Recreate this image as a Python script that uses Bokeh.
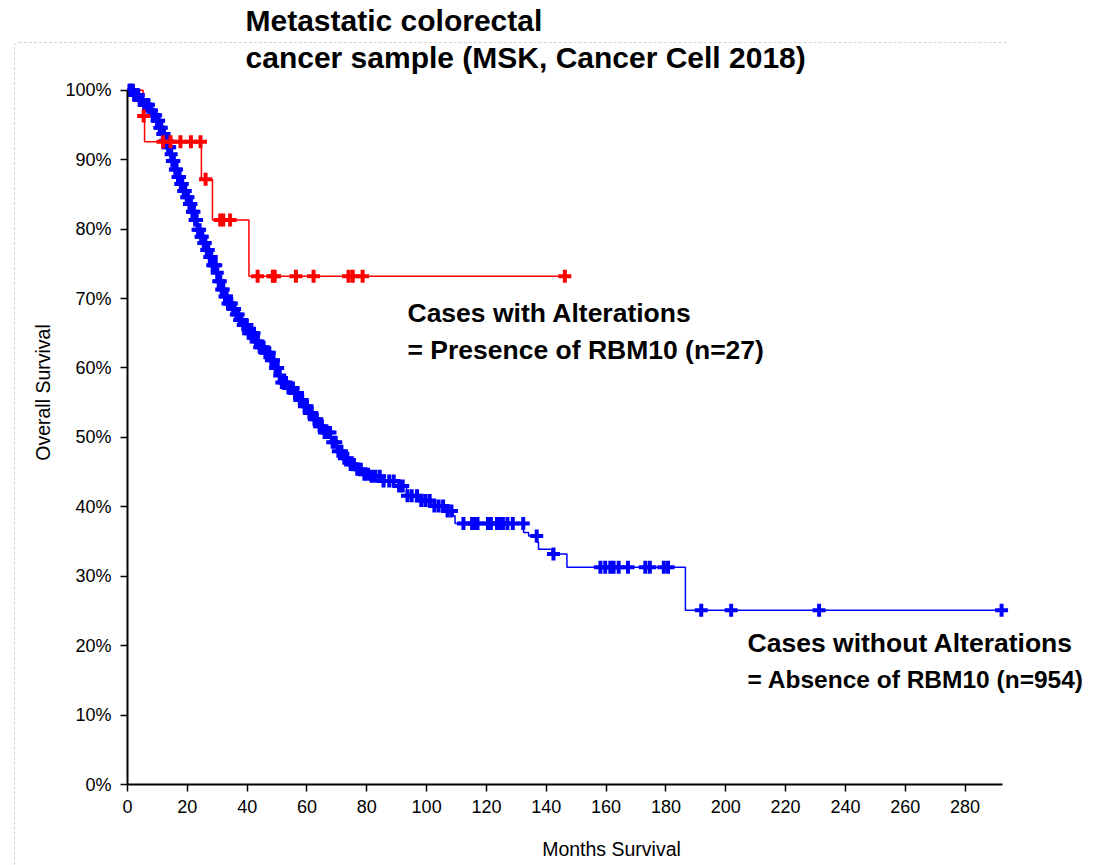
import numpy as np
from bokeh.plotting import figure
from bokeh.models import Label, FixedTicker, Range1d, InlineStyleSheet
from bokeh.embed import file_html
from bokeh.resources import INLINE

# ---------------- data (months, survival %) ----------------
# Cases with alterations (RBM10 present, n=27): step curve
red_t = [0.0, 5.2, 5.7, 24.7, 28.4, 40.6]
red_s = [100.0, 96.3, 92.6, 87.2, 81.3, 73.2]
red_censor_t = [5.4, 11.9, 14.4, 17.7, 21.2, 24.4, 26.1, 31.0, 32.0, 34.3,
                43.5, 48.6, 49.2, 56.3, 62.2, 73.9, 75.3, 78.6, 146.2]

# Cases without alterations (RBM10 absent, n=954): step curve
blue_t = [0, 2.0, 3.9, 5.5, 7.2, 8.3, 9.5, 10.6, 11.7, 12.5, 13.3, 14.2, 15.0,
          15.8, 16.7, 17.5, 18.4, 19.5, 20.6, 21.5, 22.4, 23.5, 24.4, 25.2, 26.3,
          27.4, 28.5, 29.7, 30.5, 31.3, 32.4, 33.6, 35.0, 36.4, 37.5, 38.6, 40.5,
          42.5, 44.2, 45.8, 47.5, 49.2, 50.3, 51.4, 53.6, 55.9, 57.3, 58.7, 60.4,
          62.0, 64.0, 65.9, 67.9, 69.9, 71.8, 73.8, 76.0, 78.2, 81.6, 85.5, 90.5,
          93.3, 97.2, 101.7, 106.1, 108.9, 109.5, 132.4, 134.1, 136.9, 137.4,
          141.9, 146.9, 186.5]
blue_s = [100, 99.3, 98.6, 97.9, 97.1, 96.4, 95.6, 94.6, 93.7, 92.7, 91.8, 90.8,
          89.8, 88.6, 87.5, 86.5, 85.5, 84.6, 83.6, 82.5, 81.3, 79.9, 78.9, 78.0,
          77.0, 76.0, 74.8, 73.7, 72.5, 71.3, 70.3, 69.3, 68.5, 67.7, 66.9, 66.2,
          65.0, 63.8, 63.0, 62.2, 61.1, 60.0, 58.9, 57.9, 57.1, 56.4, 55.4, 54.5,
          53.5, 52.6, 51.6, 50.7, 49.3, 48.0, 47.0, 46.1, 45.4, 44.7, 44.4, 43.7,
          43.0, 41.6, 40.9, 40.1, 39.4, 38.7, 37.6, 36.3, 35.8, 34.9, 33.9, 33.2,
          31.3, 25.1]
blue_censor_t = [0.3, 0.8, 1.3, 1.8, 2.2, 2.7, 3.1, 3.6, 4.1, 4.5, 5.0, 5.6, 6.1,
                 6.6, 7.0, 7.5, 8.0, 8.5, 8.9, 9.4, 9.9, 10.4, 10.8, 11.3, 11.8,
                 12.2, 12.7, 13.2, 13.6, 14.1, 14.6, 15.0, 15.5, 16.0, 16.4, 16.9,
                 17.4, 17.8, 18.3, 18.8, 19.3, 19.8, 20.2, 20.7, 21.2, 21.7, 22.2,
                 22.6, 23.1, 23.6, 24.1, 24.6, 25.0, 25.5, 26.0, 26.5, 27.0, 27.5,
                 28.0, 28.5, 29.0, 29.5, 30.0, 30.5, 31.0, 31.5, 32.0, 32.6, 33.1,
                 33.6, 34.2, 34.7, 35.3, 35.8, 36.4, 37.0, 37.5, 38.1, 38.7, 39.3,
                 39.9, 40.5, 41.1, 41.7, 42.3, 43.0, 43.6, 44.2, 44.8, 45.5, 46.1,
                 46.8, 47.4, 48.1, 48.8, 49.5, 50.2, 50.9, 51.6, 52.3, 53.0, 53.8,
                 54.5, 55.3, 56.0, 56.8, 57.6, 58.4, 59.2, 60.0, 60.8, 61.6, 62.5,
                 63.3, 64.2, 65.0, 65.9, 66.8, 67.7, 68.6, 69.6, 70.5, 71.5, 72.5,
                 73.5, 74.6, 75.7, 76.8, 78.0, 79.2, 80.4, 81.6, 82.8, 84.3, 85.6,
                 87.5, 89.0, 90.8, 92.0, 93.6, 95.0, 96.8, 98.2, 99.6, 101.0, 102.6,
                 104.0, 105.5, 107.0, 108.3,
                 112.3, 115.2, 116.0, 117.0, 120.5, 121.5, 123.5, 124.8, 125.5,
                 127.0, 128.8, 132.3, 136.8, 142.4, 158.1, 159.7, 161.4, 162.5,
                 164.2, 167.3, 173.1, 174.6, 179.3, 180.7, 191.8, 201.8, 231.2, 292.2]

x_ticks = list(range(0, 281, 20))
y_ticks = list(range(0, 101, 10))
y_tick_labels = {v: f"{v}%" for v in y_ticks}

title_lines = ["Metastatic colorectal", "cancer sample (MSK, Cancer Cell 2018)"]
alt_lines = ["Cases with Alterations", "= Presence of RBM10 (n=27)"]
unalt_lines = ["Cases without Alterations", "= Absence of RBM10 (n=954)"]

RED = "#ff0000"
BLUE = "#0000ff"
FONT = "Liberation Sans"


def surv_at(times, surv, t):
    idx = np.searchsorted(np.asarray(times), np.asarray(t), side="right") - 1
    return np.asarray(surv)[idx]


p = figure(width=1100, height=862, output_backend="svg", toolbar_location=None,
           x_range=Range1d(0, 323.6), y_range=Range1d(0, 112.93),
           min_border_left=127, min_border_right=5, min_border_top=0,
           min_border_bottom=76)
p.grid.visible = False
p.outline_line_color = None
p.background_fill_color = "white"
p.border_fill_color = "white"

# dashed container border (top and left edges)
p.stylesheets = [InlineStyleSheet(css="""
:host::before {
  content: "";
  position: absolute;
  left: 14px; top: 42px; width: 991px; height: 1000px;
  border-top: 1px dashed #d4d4d4;
  border-left: 1px dashed #d4d4d4;
  border-top-left-radius: 5px;
  pointer-events: none;
  z-index: 5;
}
""")]

# step lines
p.step(red_t + [red_censor_t[-1]], red_s + [red_s[-1]], mode="after",
       line_color=RED, line_width=1.5)
p.step(blue_t + [blue_censor_t[-1]], blue_s + [blue_s[-1]], mode="after",
       line_color=BLUE, line_width=1.5)

# censor marks
p.scatter(blue_censor_t, surv_at(blue_t, blue_s, blue_censor_t), marker="cross",
          size=13, line_width=4, line_color=BLUE)
p.scatter(red_censor_t, surv_at(red_t, red_s, red_censor_t), marker="cross",
          size=13, line_width=4, line_color=RED)

# axes
for ax in (p.xaxis, p.yaxis):
    ax.axis_line_width = 2
    ax.axis_line_color = "black"
    ax.major_tick_line_width = 1.5
    ax.major_tick_line_color = "black"
    ax.major_tick_out = 7
    ax.major_tick_in = 0
    ax.minor_tick_line_color = None
    ax.major_label_text_font = FONT
    ax.major_label_text_font_size = "18px"
    ax.major_label_text_color = "black"
    ax.axis_label_text_font = FONT
    ax.axis_label_text_font_size = "19.5px"
    ax.axis_label_text_font_style = "normal"
    ax.axis_label_text_color = "black"

p.xaxis.ticker = FixedTicker(ticks=x_ticks)
p.xaxis.bounds = (0, 292.5)
p.xaxis.axis_label = "Months Survival"
p.xaxis.major_label_standoff = 8
p.xaxis.axis_label_standoff = 22

p.yaxis.ticker = FixedTicker(ticks=y_ticks)
p.yaxis.major_label_overrides = y_tick_labels
p.yaxis.bounds = (0, 100)
p.yaxis.axis_label = "Overall Survival"
p.yaxis.major_label_standoff = 9
p.yaxis.axis_label_standoff = 8


def add_line(txt, x, y, size):
    p.add_layout(Label(x=x, y=y, text=txt, text_font=FONT,
                       text_font_size=size, text_font_style="bold",
                       text_color="black", text_baseline="alphabetic",
                       text_align="left"))


add_line(title_lines[0], 39.45, 110.05, "30px")
add_line(title_lines[1], 39.45, 104.7, "30px")
add_line(alt_lines[0], 93.6, 67.85, "26.5px")
add_line(alt_lines[1], 93.6, 62.6, "26.5px")
add_line(unalt_lines[0], 207.3, 20.4, "26.5px")
add_line(unalt_lines[1], 207.3, 15.1, "24.5px")

open("out.html", "w").write(file_html(p, INLINE))
